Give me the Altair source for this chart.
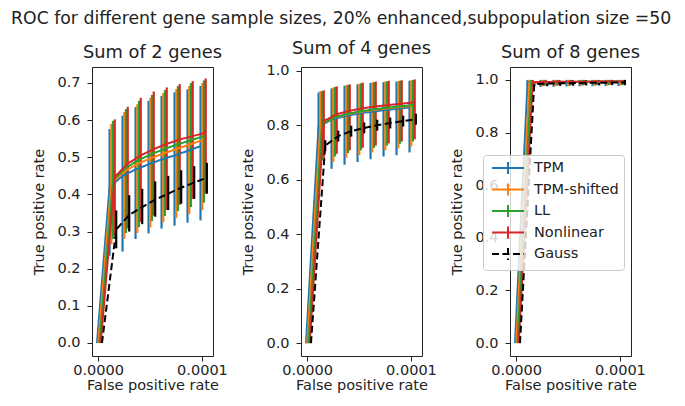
import altair as alt
import pandas as pd

TITLE = "ROC for different gene sample sizes, 20% enhanced,subpopulation size =50"
PANELS = ["Sum of 2 genes", "Sum of 4 genes", "Sum of 8 genes"]
SERIES = ["TPM", "TPM-shifted", "LL", "Nonlinear", "Gauss"]
COLORS = ["#1f77b4", "#ff7f0e", "#2ca02c", "#d62728", "#000000"]
DASHES = [[1, 0], [1, 0], [1, 0], [1, 0], [7, 3.5]]

X_TICKS = [0.0, 0.0001]
Y_TICKS = [
    [0.0, 0.1, 0.2, 0.3, 0.4, 0.5, 0.6, 0.7],
    [0.0, 0.2, 0.4, 0.6, 0.8, 1.0],
    [0.0, 0.2, 0.4, 0.6, 0.8, 1.0],
]
X_DOMAIN = [-0.0000058, 0.0001106]
Y_DOMAINS = [[-0.035, 0.743], [-0.047, 1.0135], [-0.049, 1.049]]

# false positive rate of each point, per series
X_TPM = [-0.0000010, 0.0000111, 0.0000236, 0.0000361, 0.0000486, 0.0000611, 0.0000736, 0.0000861, 0.0000986]
X_SHIFT = [0.0000002, 0.0000128, 0.0000253, 0.0000378, 0.0000503, 0.0000628, 0.0000753, 0.0000878, 0.0001003]
X_LL = [0.0000014, 0.0000144, 0.0000269, 0.0000394, 0.0000519, 0.0000644, 0.0000769, 0.0000894, 0.0001019]
X_NL = [0.0000026, 0.0000161, 0.0000286, 0.0000411, 0.0000536, 0.0000661, 0.0000786, 0.0000911, 0.0001036]
X_GAUSS = [0.0000038, 0.0000175, 0.0000300, 0.0000425, 0.0000550, 0.0000675, 0.0000800, 0.0000925, 0.0001047]

# Sum of 2 genes
P1_MEAN = {
    "TPM": [0, 0.420, 0.450, 0.467, 0.481, 0.494, 0.505, 0.517, 0.530],
    "TPM-shifted": [0, 0.430, 0.462, 0.482, 0.497, 0.510, 0.522, 0.534, 0.546],
    "LL": [0, 0.438, 0.472, 0.493, 0.509, 0.523, 0.535, 0.546, 0.557],
    "Nonlinear": [0, 0.447, 0.483, 0.505, 0.522, 0.536, 0.548, 0.557, 0.566],
    "Gauss": [0, 0.305, 0.345, 0.366, 0.386, 0.402, 0.418, 0.432, 0.445],
}
P1_LO = {
    "TPM": [0, 0.235, 0.246, 0.280, 0.295, 0.308, 0.316, 0.324, 0.330],
    "TPM-shifted": [0, 0.265, 0.280, 0.296, 0.311, 0.325, 0.337, 0.347, 0.358],
    "LL": [0, 0.280, 0.296, 0.312, 0.328, 0.342, 0.355, 0.366, 0.378],
    "Nonlinear": [0, 0.290, 0.308, 0.326, 0.343, 0.358, 0.372, 0.388, 0.402],
    "Gauss": [0, 0.255, 0.300, 0.320, 0.340, 0.358, 0.375, 0.388, 0.402],
}
P1_HI = {
    "TPM": [0, 0.576, 0.612, 0.635, 0.652, 0.665, 0.675, 0.683, 0.692],
    "TPM-shifted": [0, 0.590, 0.622, 0.643, 0.660, 0.673, 0.684, 0.692, 0.700],
    "LL": [0, 0.598, 0.630, 0.652, 0.668, 0.681, 0.692, 0.700, 0.707],
    "Nonlinear": [0, 0.602, 0.636, 0.660, 0.677, 0.688, 0.697, 0.705, 0.712],
    "Gauss": [0, 0.357, 0.398, 0.415, 0.435, 0.450, 0.465, 0.476, 0.485],
}

# Sum of 4 genes
P2_MEAN = {
    "TPM": [0, 0.795, 0.820, 0.833, 0.842, 0.849, 0.855, 0.860, 0.865],
    "TPM-shifted": [0, 0.800, 0.826, 0.839, 0.848, 0.855, 0.861, 0.866, 0.871],
    "LL": [0, 0.803, 0.829, 0.842, 0.851, 0.858, 0.864, 0.869, 0.874],
    "Nonlinear": [0, 0.815, 0.840, 0.853, 0.862, 0.869, 0.874, 0.879, 0.884],
    "Gauss": [0, 0.725, 0.760, 0.778, 0.790, 0.800, 0.808, 0.815, 0.822],
}
P2_LO = {
    "TPM": [0, 0.625, 0.640, 0.655, 0.665, 0.675, 0.685, 0.690, 0.700],
    "TPM-shifted": [0, 0.650, 0.665, 0.680, 0.690, 0.700, 0.708, 0.715, 0.722],
    "LL": [0, 0.670, 0.685, 0.698, 0.708, 0.717, 0.725, 0.732, 0.740],
    "Nonlinear": [0, 0.680, 0.695, 0.708, 0.717, 0.725, 0.733, 0.740, 0.748],
    "Gauss": [0, 0.705, 0.740, 0.758, 0.770, 0.780, 0.788, 0.795, 0.802],
}
P2_HI = {
    "TPM": [0, 0.920, 0.935, 0.945, 0.950, 0.955, 0.958, 0.960, 0.963],
    "TPM-shifted": [0, 0.925, 0.938, 0.947, 0.952, 0.957, 0.960, 0.962, 0.965],
    "LL": [0, 0.925, 0.940, 0.948, 0.954, 0.958, 0.961, 0.963, 0.966],
    "Nonlinear": [0, 0.928, 0.942, 0.950, 0.956, 0.960, 0.963, 0.965, 0.968],
    "Gauss": [0, 0.745, 0.780, 0.798, 0.810, 0.820, 0.828, 0.835, 0.842],
}

# Sum of 8 genes
P3_MEAN = {
    "TPM": [0, 0.990, 0.990, 0.991, 0.991, 0.992, 0.992, 0.993, 0.993],
    "TPM-shifted": [0, 0.990, 0.991, 0.991, 0.992, 0.992, 0.993, 0.993, 0.993],
    "LL": [0, 0.991, 0.991, 0.992, 0.992, 0.993, 0.993, 0.993, 0.994],
    "Nonlinear": [0, 0.992, 0.992, 0.993, 0.993, 0.993, 0.994, 0.994, 0.994],
    "Gauss": [0, 0.984, 0.986, 0.987, 0.988, 0.989, 0.989, 0.990, 0.990],
}
P3_LO = {
    "TPM": [0, 0.972, 0.973, 0.974, 0.975, 0.976, 0.976, 0.977, 0.977],
    "TPM-shifted": [0, 0.974, 0.975, 0.976, 0.977, 0.977, 0.978, 0.978, 0.979],
    "LL": [0, 0.976, 0.977, 0.978, 0.978, 0.979, 0.979, 0.980, 0.980],
    "Nonlinear": [0, 0.978, 0.979, 0.980, 0.980, 0.981, 0.981, 0.982, 0.982],
    "Gauss": [0, 0.974, 0.976, 0.977, 0.978, 0.979, 0.979, 0.980, 0.980],
}
P3_HI = {
    "TPM": [0, 1.000, 1.000, 1.000, 1.000, 1.000, 1.000, 1.000, 1.000],
    "TPM-shifted": [0, 1.000, 1.000, 1.000, 1.000, 1.000, 1.000, 1.000, 1.000],
    "LL": [0, 1.000, 1.000, 1.000, 1.000, 1.000, 1.000, 1.000, 1.000],
    "Nonlinear": [0, 1.000, 1.000, 1.000, 1.000, 1.000, 1.000, 1.000, 1.000],
    "Gauss": [0, 0.994, 0.996, 0.997, 0.998, 0.999, 0.999, 1.000, 1.000],
}

X_BY_SERIES = {"TPM": X_TPM, "TPM-shifted": X_SHIFT, "LL": X_LL, "Nonlinear": X_NL, "Gauss": X_GAUSS}
PANEL_DATA = [(P1_MEAN, P1_LO, P1_HI), (P2_MEAN, P2_LO, P2_HI), (P3_MEAN, P3_LO, P3_HI)]

rows = []
for pname, (mean, lo, hi) in zip(PANELS, PANEL_DATA):
    for s in SERIES:
        for i, xv in enumerate(X_BY_SERIES[s]):
            rows.append({"panel": pname, "series": s, "i": i, "x": xv,
                         "y": mean[s][i], "lo": lo[s][i], "hi": hi[s][i]})
df = pd.DataFrame(rows)

FONT = "DejaVu Sans"
TXT = "#222222"

LEGEND = alt.Legend(
    title=None, orient="none", legendX=-27, legendY=88,
    symbolType="M-2.29,0H2.29M0,-0.86V0.86", symbolSize=196, symbolStrokeWidth=2,
    symbolOffset=12,
    labelFont=FONT, labelFontSize=14.5, labelColor=TXT, labelOffset=18,
    fillColor="rgba(255,255,255,0.8)", strokeColor="#cccccc", cornerRadius=3,
    padding=5, rowPadding=-0.5,
)


def panel(p):
    base = alt.Chart(df).transform_filter(alt.datum.panel == PANELS[p])
    xs = alt.Scale(domain=X_DOMAIN, nice=False, zero=False)
    ys = alt.Scale(domain=Y_DOMAINS[p], nice=False, zero=False)
    xax = alt.Axis(values=X_TICKS, format=".4f", title="False positive rate")
    yax = alt.Axis(values=Y_TICKS[p], format=".1f", title="True positive rate")
    leg = LEGEND if p == 2 else None
    col = alt.Color("series:N", scale=alt.Scale(domain=SERIES, range=COLORS), legend=leg)
    dash = alt.StrokeDash("series:N", scale=alt.Scale(domain=SERIES, range=DASHES), legend=leg)
    layers = []
    for s in SERIES:
        layers.append(
            base.transform_filter(alt.datum.series == s).mark_rule(strokeWidth=2.2).encode(
                x=alt.X("x:Q", scale=xs, axis=xax),
                y=alt.Y("lo:Q", scale=ys, axis=yax),
                y2="hi:Q",
                color=col,
            )
        )
    for s in SERIES:
        layers.append(
            base.transform_filter(alt.datum.series == s).mark_line(strokeWidth=2).encode(
                x=alt.X("x:Q", scale=xs, axis=xax),
                y=alt.Y("y:Q", scale=ys, axis=yax),
                color=col,
                strokeDash=dash,
                order="i:Q",
            )
        )
    return alt.layer(*layers).properties(
        width=121, height=289,
        title=alt.TitleParams(PANELS[p], fontSize=17.8, fontWeight="normal", anchor="middle",
                              font=FONT, color=TXT, offset=5),
    )


chart = (
    alt.hconcat(panel(0), panel(1), panel(2), spacing=88, bounds="flush")
    .resolve_scale(x="independent", y="independent", color="independent", strokeDash="independent")
    .resolve_legend(color="independent", strokeDash="independent")
    .properties(
        title=alt.TitleParams(TITLE, fontSize=17.3, fontWeight="normal", anchor="middle",
                              font=FONT, color=TXT, offset=12, dx=2.5),
        padding={"left": 3, "top": 2, "right": 4, "bottom": 0},
    )
    .configure_view(stroke=TXT, strokeWidth=1)
    .configure_axis(
        labelFont=FONT, titleFont=FONT, labelFontSize=14.5, titleFontSize=14.5,
        titleFontWeight="normal", labelColor=TXT, titleColor=TXT, tickColor=TXT,
        tickSize=5, tickWidth=1, labelPadding=2, titlePadding=2, grid=False, domain=False,
        labelFlush=False, labelOverlap=False, labelBound=False,
    )
    .configure_axisY(titlePadding=10, labelPadding=7)
)

chart.save("out.html", embed_options={"renderer": "svg", "actions": False})
